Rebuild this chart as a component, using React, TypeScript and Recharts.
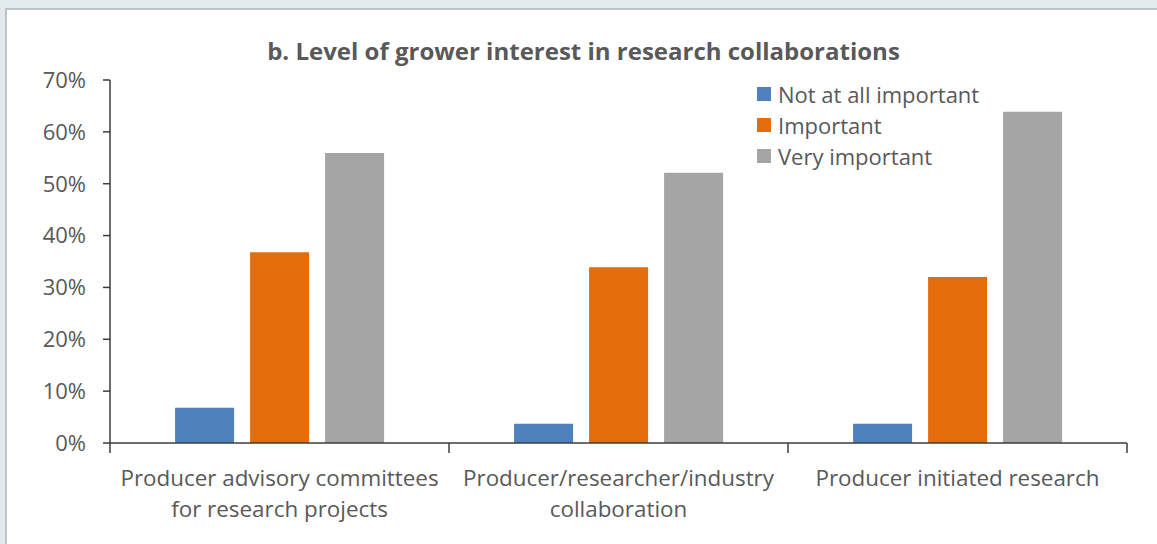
import React from 'react';
import { BarChart, Bar, XAxis, YAxis, Legend } from 'recharts';

const categories = [
  'Producer advisory committees\nfor research projects',
  'Producer/researcher/industry\ncollaboration',
  'Producer initiated research',
];
const seriesNames = ['Not at all important', 'Important', 'Very important'];
const notAtAll = [6.8, 3.7, 3.7];
const important = [36.8, 33.9, 32.0];
const veryImportant = [55.9, 52.1, 63.9];
const yTicks = [0, 10, 20, 30, 40, 50, 60, 70];

const W = 1157;
const H = 544;
const MARGIN = { top: 80, right: 30, left: 10, bottom: 41 };
const Y_W = 100;
const BAND = (W - MARGIN.left - MARGIN.right - Y_W) / categories.length;

const FONT = '"Open Sans", Lato, sans-serif';
const TEXT = '#595959';
const AXIS = '#3c3c3c';

const data = categories.map((name, i) => ({
  name,
  notAtAll: notAtAll[i],
  important: important[i],
  veryImportant: veryImportant[i],
}));

function CategoryTick(props: any) {
  const { x, y, payload, index, visibleTicksCount } = props;
  const half = payload.offset || BAND / 2;
  const lines = String(payload.value).split('\n');
  const last = index === (visibleTicksCount ?? categories.length) - 1;
  return (
    <g>
      <line x1={x - half} x2={x - half} y1={y} y2={y + 10} stroke={AXIS} strokeWidth={1.5} />
      {last && <line x1={x + half} x2={x + half} y1={y} y2={y + 10} stroke={AXIS} strokeWidth={1.5} />}
      <text x={x} y={y + 43} textAnchor="middle" fill={TEXT} fontSize={22.4} fontFamily={FONT}>
        {lines.map((l, i) => (
          <tspan key={i} x={x} dy={i === 0 ? 0 : 31}>
            {l}
          </tspan>
        ))}
      </text>
    </g>
  );
}

function LegendBox({ payload }: any) {
  const items = [...(payload || [])].sort(
    (a: any, b: any) => seriesNames.indexOf(a.value) - seriesNames.indexOf(b.value)
  );
  return (
    <div style={{ fontFamily: FONT, fontSize: 22, color: TEXT }}>
      {items.map((p: any) => (
        <div key={p.value} style={{ display: 'flex', alignItems: 'center', height: 31 }}>
          <span style={{ width: 14, height: 14, background: p.color, marginRight: 7, display: 'inline-block' }} />
          {p.value}
        </div>
      ))}
    </div>
  );
}

export default function App() {
  return (
    <div style={{ position: 'absolute', left: 0, top: 0, width: W, height: H, background: '#e3eaee', overflow: 'hidden' }}>
      <div
        style={{
          position: 'absolute',
          left: 5,
          top: 8,
          width: W,
          height: H,
          background: '#fff',
          border: '2px solid #bcc3c7',
        }}
      />
      <div
        style={{
          position: 'absolute',
          left: 267,
          top: 34,
          width: 633,
          textAlign: 'center',
          whiteSpace: 'nowrap',
          fontFamily: FONT,
          fontWeight: 'bold',
          fontSize: 24,
          color: TEXT,
        }}
      >
        b. Level of grower interest in research collaborations
      </div>
      <div style={{ position: 'absolute', left: 0, top: 0 }}>
        <BarChart width={W} height={H} data={data} margin={MARGIN} barCategoryGap="19.2%" barGap={16}>
          <XAxis
            dataKey="name"
            height={60}
            interval={0}
            tickLine={false}
            tickSize={0}
            tickMargin={0}
            axisLine={{ stroke: AXIS, strokeWidth: 1.5 }}
            tick={<CategoryTick />}
          />
          <YAxis
            width={Y_W}
            domain={[0, 70]}
            ticks={yTicks}
            interval={0}
            tickSize={7}
            tickMargin={17}
            tickFormatter={(v: number) => `${v}%`}
            axisLine={{ stroke: AXIS, strokeWidth: 1.5 }}
            tickLine={{ stroke: AXIS, strokeWidth: 1.5 }}
            tick={{ fill: TEXT, fontSize: 22, fontFamily: FONT }}
          />
          <Legend
            layout="horizontal"
            verticalAlign="middle"
            align="center"
            content={<LegendBox />}
            wrapperStyle={{ left: 757, top: 78, width: 'auto' }}
          />
          <Bar dataKey="notAtAll" name="Not at all important" fill="#4f81bd" isAnimationActive={false} />
          <Bar dataKey="important" name="Important" fill="#e46c0a" isAnimationActive={false} />
          <Bar dataKey="veryImportant" name="Very important" fill="#a5a5a5" isAnimationActive={false} />
        </BarChart>
      </div>
    </div>
  );
}
